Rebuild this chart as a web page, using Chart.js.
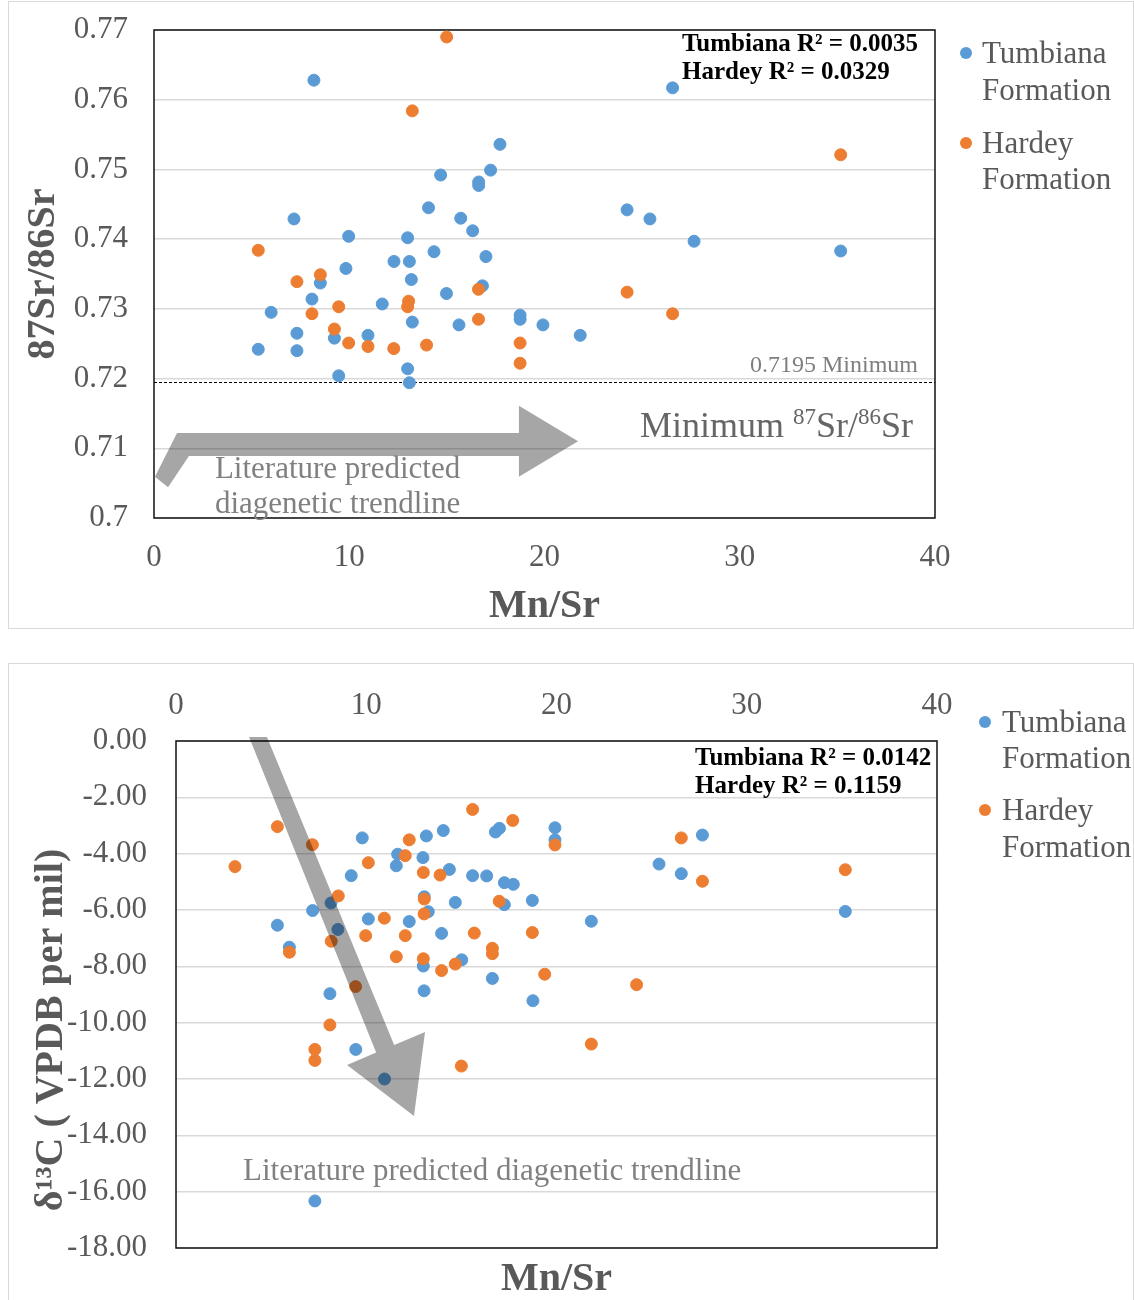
<!DOCTYPE html>
<html>
<head>
<meta charset="utf-8">
<title>Mn/Sr cross-plots</title>
<script src="https://cdn.jsdelivr.net/npm/chart.js@4.4.1/dist/chart.umd.min.js"></script>
<style>
  body { margin: 0; background: #fff; width: 1134px; height: 1300px; overflow: hidden; position: relative; }
  .panel { position: absolute; left: 8px; width: 1124px; border: 1px solid #d9d9d9; }
  #srPanel { top: 1px; height: 626px; }
  #cPanel { top: 663px; height: 680px; }
  canvas { position: absolute; }
</style>
</head>
<body>
<div class="panel" id="srPanel"></div>
<div class="panel" id="cPanel"></div>
<canvas id="srChart" width="1126" height="628" style="left:8px;top:0px"></canvas>
<canvas id="cChart" width="1126" height="637" style="left:8px;top:663px"></canvas>
<script>
const FONT = "'Liberation Serif', 'Times New Roman', serif";
const BLUE = '#5b9bd5';
const ORANGE = '#ed7d31';

// shared x axis
const mnSrTicks = [0, 10, 20, 30, 40];

// --- Mn/Sr vs 87Sr/86Sr ---
const srRatioTicks = [0.70, 0.71, 0.72, 0.73, 0.74, 0.75, 0.76, 0.77];
const srMinimum = 0.7195;
const srR2 = ['0.0035', '0.0329'];

const tumbianaSrMnSr = [8.19, 26.56, 17.72, 17.24, 14.68, 16.63, 16.63, 14.06, 7.17, 15.71, 16.32, 9.97, 12.99, 14.34, 17.0, 12.29, 13.08, 9.83, 8.52, 13.18, 16.82, 14.98, 8.09, 11.69, 6.0, 18.75, 18.75, 13.23, 15.62, 19.92, 21.83, 7.32, 9.24, 10.96, 5.34, 7.32, 12.99, 9.46, 13.08, 24.23, 25.4, 27.66, 35.17];
const tumbianaSrRatio = [0.7628, 0.7617, 0.7536, 0.7499, 0.7492, 0.7482, 0.7477, 0.7445, 0.7429, 0.7430, 0.7412, 0.7404, 0.7402, 0.7382, 0.7375, 0.7368, 0.7368, 0.7358, 0.7337, 0.7342, 0.7333, 0.7322, 0.7314, 0.7307, 0.7295, 0.7291, 0.7285, 0.7281, 0.7277, 0.7277, 0.7262, 0.7265, 0.7258, 0.7262, 0.7242, 0.7240, 0.7214, 0.7204, 0.7194, 0.7442, 0.7429, 0.7397, 0.7383];

const hardeySrMnSr = [14.99, 13.23, 5.34, 8.52, 7.32, 16.62, 13.04, 12.99, 9.46, 8.09, 16.62, 9.24, 9.97, 10.96, 12.28, 13.96, 18.75, 18.75, 35.17, 24.23, 26.56];
const hardeySrRatio = [0.7690, 0.7584, 0.7384, 0.7349, 0.7339, 0.7328, 0.7311, 0.7303, 0.7303, 0.7293, 0.7285, 0.7271, 0.7251, 0.7246, 0.7243, 0.7248, 0.7251, 0.7222, 0.7521, 0.7324, 0.7293];

// bent trend arrow outline (Mn/Sr, 87Sr/86Sr)
const srArrowX = [1.18, 18.69, 18.69, 21.72, 18.69, 18.69, 1.79, 0.72, 0.05];
const srArrowY = [0.7122, 0.7122, 0.7161, 0.7110, 0.7059, 0.7089, 0.7089, 0.7044, 0.7059];

// --- Mn/Sr vs d13C ---
const d13cTicks = [0, -2, -4, -6, -8, -10, -12, -14, -16, -18];
const cR2 = ['0.0142', '0.1159'];

const tumbianaCMnSr = [9.79, 13.16, 14.05, 16.79, 17.0, 19.92, 19.92, 11.65, 11.58, 12.98, 14.37, 9.21, 15.59, 16.33, 17.26, 17.73, 18.73, 17.26, 8.15, 7.18, 14.68, 13.05, 13.26, 10.11, 12.26, 5.33, 8.51, 13.96, 5.96, 15.02, 13.0, 16.63, 18.76, 8.09, 13.04, 27.67, 25.39, 26.56, 35.18, 21.83, 9.45, 10.96, 7.30];
const tumbianaD13C = [-3.44, -3.37, -3.18, -3.23, -3.10, -3.08, -3.51, -4.02, -4.43, -4.14, -4.56, -4.78, -4.78, -4.79, -5.03, -5.09, -5.66, -5.81, -5.75, -6.02, -5.73, -5.53, -6.06, -6.32, -6.41, -6.54, -6.69, -6.83, -7.32, -7.77, -7.99, -8.43, -9.22, -8.97, -8.87, -3.34, -4.37, -4.71, -6.05, -6.40, -10.95, -12.0, -16.33];

const hardeyCMnSr = [15.59, 17.70, 5.33, 7.17, 19.92, 12.26, 12.05, 3.10, 10.11, 13.0, 13.88, 8.53, 13.05, 16.99, 13.04, 10.95, 9.97, 12.05, 15.68, 18.73, 5.96, 8.16, 11.58, 13.0, 14.68, 13.96, 16.63, 16.63, 19.38, 9.44, 8.09, 26.56, 27.67, 35.18, 24.21, 21.83, 7.30, 7.30, 15.0];
const hardeyD13C = [-2.43, -2.82, -3.04, -3.68, -3.69, -3.51, -4.07, -4.46, -4.32, -4.67, -4.76, -5.50, -5.61, -5.69, -6.14, -6.29, -6.91, -6.91, -6.82, -6.80, -7.50, -7.11, -7.66, -7.73, -7.92, -8.15, -7.36, -7.55, -8.28, -8.72, -10.08, -3.44, -4.98, -4.57, -8.65, -10.76, -10.95, -11.34, -11.54];

// straight trend arrow outline (Mn/Sr, d13C)
const cArrowX = [3.84, 4.78, 11.47, 13.09, 12.51, 8.99, 10.52];
const cArrowY = [0.14, 0.14, -10.79, -10.33, -13.31, -11.50, -11.06];

Chart.defaults.font.family = FONT;
Chart.defaults.color = '#595959';

const pairs = (xs, ys) => xs.map((x, i) => ({ x: x, y: ys[i] }));
const useTicks = list => scale => { scale.ticks = list.map(v => ({ value: v })); };

// fixed axis size; label overhang must not push the plot area around
const fixWidth = w => s => { s.width = w; s.paddingTop = 0; s.paddingBottom = 0; };
const fixHeight = h => s => { s.height = h; s.paddingLeft = 0; s.paddingRight = 0; };

function series(label, xs, ys, color, order) {
  return {
    label: label,
    data: pairs(xs, ys),
    backgroundColor: color,
    borderColor: color,
    pointRadius: 6,
    pointBorderWidth: 1,
    order: order,
    xAxisID: 'x',
    yAxisID: 'y'
  };
}

// draws rich text made of runs (for superscripts)
function drawRuns(ctx, runs, x, y, align) {
  let total = 0;
  runs.forEach(r => {
    ctx.font = (r.weight || 'normal') + ' ' + r.size + 'px ' + FONT;
    r.w = ctx.measureText(r.text).width;
    total += r.w;
  });
  let cx = align === 'right' ? x - total : x;
  runs.forEach(r => {
    ctx.font = (r.weight || 'normal') + ' ' + r.size + 'px ' + FONT;
    ctx.fillStyle = r.color || '#595959';
    ctx.textAlign = 'left';
    ctx.textBaseline = 'middle';
    ctx.fillText(r.text, cx, y - (r.rise || 0));
    cx += r.w;
  });
}

function annotate(cfg) {
  return {
    id: 'annotate',
    beforeDatasetsDraw(chart) {
      const { ctx, chartArea: a, scales: { y } } = chart;
      ctx.save();
      if (cfg.minimum != null) {
        const py = Math.round(y.getPixelForValue(cfg.minimum)) + 0.5;
        ctx.strokeStyle = '#000';
        ctx.lineWidth = 1;
        ctx.setLineDash([3, 2]);
        ctx.beginPath();
        ctx.moveTo(a.left, py);
        ctx.lineTo(a.right, py);
        ctx.stroke();
        ctx.setLineDash([]);
      }
      ctx.strokeStyle = '#111';
      ctx.lineWidth = 1.5;
      ctx.strokeRect(a.left, a.top, a.right - a.left, a.bottom - a.top);
      ctx.restore();
    },
    afterDatasetsDraw(chart) {
      const { ctx, chartArea: a, scales: { x, y } } = chart;

      // trend arrow, translucent so points underneath darken
      ctx.save();
      if (cfg.clipArrow) {
        ctx.beginPath();
        ctx.rect(a.left, a.top, a.right - a.left, a.bottom - a.top);
        ctx.clip();
      }
      ctx.fillStyle = 'rgba(0, 0, 0, 0.35)';
      ctx.beginPath();
      cfg.arrowX.forEach((v, i) => {
        const px = x.getPixelForValue(v);
        const py = y.getPixelForValue(cfg.arrowY[i]);
        if (i === 0) ctx.moveTo(px, py); else ctx.lineTo(px, py);
      });
      ctx.closePath();
      ctx.fill();
      ctx.restore();

      ctx.save();
      cfg.notes.forEach(n => {
        drawRuns(ctx, n.runs, x.getPixelForValue(n.x), y.getPixelForValue(n.y), n.align);
      });

      // legend with wrapped labels
      chart.data.datasets.forEach((ds, i) => {
        const rows = cfg.legend.rows[i];
        ctx.fillStyle = ds.backgroundColor;
        ctx.beginPath();
        ctx.arc(a.right + cfg.legend.markerDx, a.top + rows[0] - 2, 6, 0, Math.PI * 2);
        ctx.fill();
        ctx.font = '31px ' + FONT;
        ctx.fillStyle = '#595959';
        ctx.textAlign = 'left';
        ctx.textBaseline = 'middle';
        ds.label.split(' ').forEach((word, k) => {
          ctx.fillText(word, a.right + cfg.legend.textDx, a.top + rows[k]);
        });
      });

      if (cfg.yTitle) {
        ctx.translate(a.left + cfg.yTitle.dx, a.top + cfg.yTitle.dy);
        ctx.rotate(-Math.PI / 2);
        ctx.font = 'bold 40px ' + FONT;
        ctx.fillStyle = '#595959';
        ctx.textAlign = 'center';
        ctx.textBaseline = 'middle';
        ctx.fillText(cfg.yTitle.text, 0, 0);
      }
      ctx.restore();
    }
  };
}

const r2Runs = (name, value) => [{ text: name + ' R\u00B2 = ' + value, size: 25, weight: 'bold', color: '#000' }];
const trendRuns = text => [{ text: text, size: 31, color: '#808080' }];

const srNotes = {
  minimum: srMinimum,
  clipArrow: true,
  arrowX: srArrowX,
  arrowY: srArrowY,
  legend: { markerDx: 31, textDx: 47, rows: [[25, 62], [115, 151]] },
  notes: [
    { x: 27.04, y: 0.76785, align: 'left', runs: r2Runs('Tumbiana', srR2[0]) },
    { x: 27.04, y: 0.76383, align: 'left', runs: r2Runs('Hardey', srR2[1]) },
    { x: 39.13, y: 0.72180, align: 'right', runs: [{ text: srMinimum + ' Minimum', size: 24, color: '#7f7f7f' }] },
    { x: 38.87, y: 0.71291, align: 'right', runs: [
      { text: 'Minimum ', size: 36, color: '#666' },
      { text: '87', size: 23, color: '#666', rise: 10 },
      { text: 'Sr/', size: 36, color: '#666' },
      { text: '86', size: 23, color: '#666', rise: 10 },
      { text: 'Sr', size: 36, color: '#666' }
    ] },
    { x: 3.12, y: 0.70688, align: 'left', runs: trendRuns('Literature predicted') },
    { x: 3.12, y: 0.70186, align: 'left', runs: trendRuns('diagenetic trendline') }
  ]
};

const cNotes = {
  minimum: null,
  clipArrow: false,
  arrowX: cArrowX,
  arrowY: cArrowY,
  legend: { markerDx: 48, textDx: 65, rows: [[-17, 19], [71, 108]] },
  yTitle: { text: '\u03B4\u00B9\u00B3C ( VPDB per mil)', dx: -124, dy: 289 },
  notes: [
    { x: 27.28, y: -0.64, align: 'left', runs: r2Runs('Tumbiana', cR2[0]) },
    { x: 27.28, y: -1.60, align: 'left', runs: r2Runs('Hardey', cR2[1]) },
    { x: 3.52, y: -15.30, align: 'left', runs: trendRuns('Literature predicted diagenetic trendline') }
  ]
};

const tickFont = { size: 31 };
const titleFont = { size: 40, weight: 'bold', lineHeight: 1 };

new Chart(document.getElementById('srChart'), {
  type: 'scatter',
  data: {
    datasets: [
      series('Tumbiana Formation', tumbianaSrMnSr, tumbianaSrRatio, BLUE, 1),
      series('Hardey Formation', hardeySrMnSr, hardeySrRatio, ORANGE, 0)
    ]
  },
  options: {
    responsive: false,
    animation: false,
    layout: { padding: { left: 0, top: 30, right: 199, bottom: 0 }, autoPadding: false },
    plugins: { legend: { display: false }, tooltip: { enabled: false } },
    scales: {
      x: {
        type: 'linear', position: 'bottom', min: 0, max: 40,
        afterBuildTicks: useTicks(mnSrTicks),
        afterFit: fixHeight(110),
        grid: { display: false, drawTicks: false },
        border: { display: false },
        ticks: { font: tickFont, padding: 21, autoSkip: false },
        title: { display: true, text: 'Mn/Sr', font: titleFont, padding: { top: 0, bottom: 1 } }
      },
      y: {
        type: 'linear', min: 0.70, max: 0.77,
        afterBuildTicks: useTicks(srRatioTicks),
        afterFit: fixWidth(146),
        grid: { color: '#d9d9d9', lineWidth: 1.5, drawTicks: false },
        border: { display: false },
        ticks: { font: tickFont, padding: 26, autoSkip: false, callback: v => String(Number(v.toFixed(2))) },
        title: { display: true, text: '87Sr/86Sr', font: titleFont, padding: { top: 16, bottom: 0 } }
      }
    }
  },
  plugins: [annotate(srNotes)]
});

new Chart(document.getElementById('cChart'), {
  type: 'scatter',
  data: {
    datasets: [
      series('Tumbiana Formation', tumbianaCMnSr, tumbianaD13C, BLUE, 1),
      series('Hardey Formation', hardeyCMnSr, hardeyD13C, ORANGE, 0)
    ]
  },
  options: {
    responsive: false,
    animation: false,
    layout: { padding: { left: 0, top: 0, right: 197, bottom: 0 }, autoPadding: false },
    plugins: { legend: { display: false }, tooltip: { enabled: false } },
    scales: {
      x: {
        type: 'linear', position: 'top', min: 0, max: 40,
        afterBuildTicks: useTicks(mnSrTicks),
        afterFit: fixHeight(78),
        grid: { display: false, drawTicks: false },
        border: { display: false },
        ticks: { font: tickFont, padding: 17, autoSkip: false }
      },
      x2: {
        type: 'linear', position: 'bottom', min: 0, max: 40,
        afterFit: fixHeight(52),
        grid: { display: false, drawTicks: false },
        border: { display: false },
        ticks: { display: false },
        title: { display: true, text: 'Mn/Sr', font: titleFont, padding: { top: 0, bottom: 0 } }
      },
      y: {
        type: 'linear', min: -18, max: 0,
        afterBuildTicks: useTicks(d13cTicks),
        afterFit: fixWidth(168),
        grid: { color: '#d9d9d9', lineWidth: 1.5, drawTicks: false },
        border: { display: false },
        ticks: { font: tickFont, padding: 29, autoSkip: false, callback: v => v.toFixed(2) }
      }
    }
  },
  plugins: [annotate(cNotes)]
});
</script>
</body>
</html>
